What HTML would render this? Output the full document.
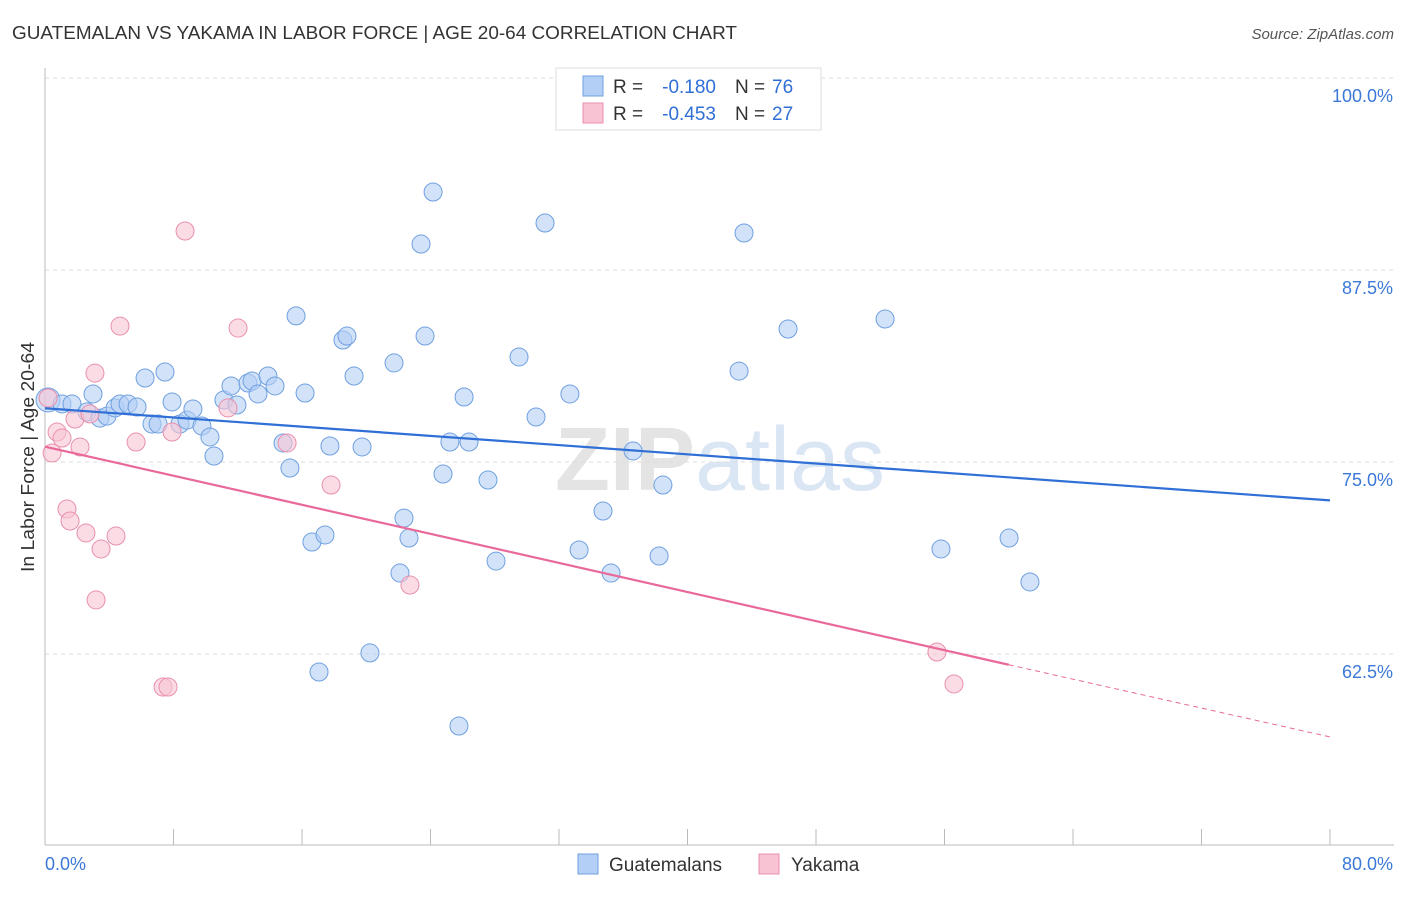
<!DOCTYPE html>
<html><head><meta charset="utf-8"><style>
body{margin:0;background:#fff;font-family:"Liberation Sans",sans-serif}
svg text{font-family:"Liberation Sans",sans-serif}
</style></head><body>
<svg width="1406" height="892" xmlns="http://www.w3.org/2000/svg" id="chart">
<text x="12" y="39" font-size="18" fill="#333" textLength="725" lengthAdjust="spacingAndGlyphs">GUATEMALAN VS YAKAMA IN LABOR FORCE | AGE 20-64 CORRELATION CHART</text>
<text x="1394" y="39" font-size="15" fill="#555" text-anchor="end" font-style="italic">Source: ZipAtlas.com</text>
<text x="720" y="490" font-size="90" fill="#e4e4e4" text-anchor="middle" font-family="Liberation Serif" font-weight="bold">ZIP<tspan fill="#dbe6f5" font-family="Liberation Sans" font-weight="normal">atlas</tspan></text>
<g id="grid"></g><g id="axes"></g><g id="pts"></g><g id="trend"></g>
<text transform="translate(34,457) rotate(-90)" font-size="18" fill="#333" text-anchor="middle" textLength="230" lengthAdjust="spacingAndGlyphs">In Labor Force | Age 20-64</text>
<g>
<rect x="556" y="68" width="265" height="62" fill="#fff" stroke="#ddd"/>
<rect x="583" y="76" width="20" height="20" fill="#b3cff5" stroke="#6fa0e0"/>
<text x="613" y="93" font-size="19" fill="#333">R =</text>
<text x="716" y="93" font-size="19" fill="#2f6fd6" text-anchor="end">-0.180</text>
<text x="735" y="93" font-size="19" fill="#333">N =</text>
<text x="772" y="93" font-size="19" fill="#2f6fd6">76</text>
<rect x="583" y="103" width="20" height="20" fill="#f8c4d4" stroke="#e890ad"/>
<text x="613" y="120" font-size="19" fill="#333">R =</text>
<text x="716" y="120" font-size="19" fill="#2f6fd6" text-anchor="end">-0.453</text>
<text x="735" y="120" font-size="19" fill="#333">N =</text>
<text x="772" y="120" font-size="19" fill="#2f6fd6">27</text>
</g>
<g>
<rect x="578" y="854" width="20" height="20" fill="#b3cff5" stroke="#6fa0e0"/>
<text x="609" y="871" font-size="19" fill="#333">Guatemalans</text>
<rect x="759" y="854" width="20" height="20" fill="#f8c4d4" stroke="#e890ad"/>
<text x="791" y="871" font-size="19" fill="#333">Yakama</text>
</g>
</svg>
<script>
const xTicks=[0,8,16,24,32,40,48,56,64,72,80];
const yTicks=[62.5,75,87.5,100];
const yLabels=["62.5%","75.0%","87.5%","100.0%"];
const bluePx=[[48,400],[62,404],[72,404],[87,412],[93,394],[100,418],[107,416],[115,408],[120,404],[128,404],[137,407],[145,378],[152,424],[158,424],[165,372],[172,402],[180,424],[187,420],[193,409],[202,426],[210,437],[214,456],[224,400],[231,386],[237,405],[248,383],[252,381],[258,394],[268,376],[275,386],[283,443],[290,468],[296,316],[305,393],[312,542],[325,535],[330,446],[343,340],[347,336],[354,376],[362,447],[370,653],[319,672],[394,363],[400,573],[404,518],[409,538],[421,244],[425,336],[433,192],[443,474],[450,442],[459,726],[464,397],[469,442],[488,480],[496,561],[519,357],[536,417],[545,223],[570,394],[579,550],[603,511],[611,573],[633,451],[659,556],[663,485],[739,371],[744,233],[788,329],[885,319],[941,549],[1009,538],[1030,582]];
const pinkPx=[[48,398],[52,453],[57,432],[62,438],[67,509],[70,521],[75,419],[80,447],[86,533],[90,414],[96,600],[95,373],[101,549],[116,536],[120,326],[136,442],[163,687],[168,687],[172,432],[185,231],[228,408],[238,328],[287,443],[331,485],[410,585],[937,652],[954,684]];
const blueX=bluePx.map(p=>+((p[0]-45)/16.0625).toFixed(2));
const blueY=bluePx.map(p=>+(75+(462-p[1])/15.36).toFixed(2));
const pinkX=pinkPx.map(p=>+((p[0]-45)/16.0625).toFixed(2));
const pinkY=pinkPx.map(p=>+(75+(462-p[1])/15.36).toFixed(2));
const blueTrend=[[0,78.5],[80,72.5]];
const pinkTrend=[[0,76.0],[60,61.8],[80,57.1]];
const X=v=>45+v*16.0625, Y=v=>462-(v-75)*15.36;
const NS="http://www.w3.org/2000/svg";
function mk(tag,parent,attrs){const e=document.createElementNS(NS,tag);for(const k in attrs)e.setAttribute(k,attrs[k]);document.getElementById(parent).appendChild(e);return e;}
yTicks.forEach((t,i)=>{
 const g=mk('line','grid',{x1:45,x2:1394,y1:Y(t),y2:Y(t),stroke:'#ddd','stroke-dasharray':'4,4'});
 
 
 const tx=mk('text','grid',{x:1393,y:Y(t)+24,'font-size':18,fill:'#3b78d8','text-anchor':'end'});tx.textContent=yLabels[i];
 
 
});
const ax=mk('line','axes',{x1:45,x2:45,y1:68,y2:845,stroke:'#bbb'});


const bx=mk('line','axes',{x1:45,x2:1394,y1:845,y2:845,stroke:'#bbb'});


xTicks.forEach(t=>{const l=mk('line','axes',{x1:X(t),x2:X(t),y1:829,y2:845,stroke:'#bbb'});
 
 });
[[0,"0.0%","start",45],[80,"80.0%","end",1393]].forEach(a=>{const t=mk('text','axes',{x:a[3],y:870,'font-size':18,fill:'#3b78d8','text-anchor':a[2]});t.textContent=a[1];
 
 });
blueX.forEach((v,i)=>{const c=mk('circle','pts',{cx:X(v),cy:Y(blueY[i]),r:i==0?12:9,fill:'#b3cff5','fill-opacity':0.6,stroke:'#6fa0e0','stroke-width':1});
 
 });
pinkX.forEach((v,i)=>{const c=mk('circle','pts',{cx:X(v),cy:Y(pinkY[i]),r:9,fill:'#f8c4d4','fill-opacity':0.6,stroke:'#e890ad','stroke-width':1});
 
 });
const bl=mk('line','trend',{x1:X(blueTrend[0][0]),y1:Y(blueTrend[0][1]),x2:X(blueTrend[1][0]),y2:Y(blueTrend[1][1]),stroke:'#2f6fd6','stroke-width':2.2});


const pl=mk('line','trend',{x1:X(pinkTrend[0][0]),y1:Y(pinkTrend[0][1]),x2:X(pinkTrend[1][0]),y2:Y(pinkTrend[1][1]),stroke:'#e8699a','stroke-width':2.2});


const pd=mk('line','trend',{x1:X(pinkTrend[1][0]),y1:Y(pinkTrend[1][1]),x2:X(pinkTrend[2][0]),y2:Y(pinkTrend[2][1]),stroke:'#e8699a','stroke-width':1,'stroke-dasharray':'5,4'});


</script>
</body></html>
